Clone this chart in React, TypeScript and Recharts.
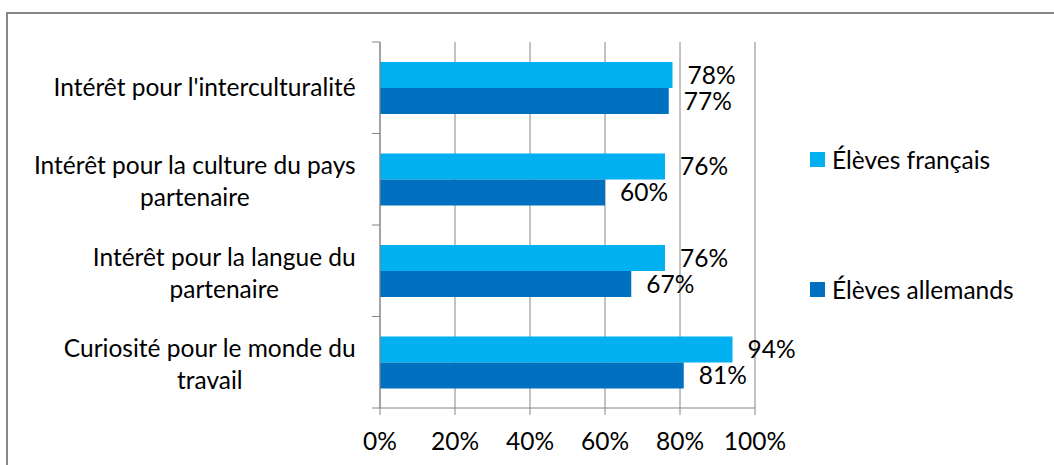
import React from "react";
import {
  BarChart,
  Bar,
  XAxis,
  YAxis,
  CartesianGrid,
  Legend,
  LabelList,
} from "recharts";

const categories = [
  "Intérêt pour l'interculturalité",
  "Intérêt pour la culture du pays\npartenaire",
  "Intérêt pour la langue du\npartenaire",
  "Curiosité pour le monde du\ntravail",
];
const francais = [78, 76, 76, 94];
const allemands = [77, 60, 67, 81];
const xTicks = [0, 20, 40, 60, 80, 100];
const seriesNames = ["Élèves français", "Élèves allemands"];
const colors = ["#00B0F0", "#0070C0"];

const data = categories.map((c, i) => ({
  cat: c,
  fr: francais[i],
  de: allemands[i],
}));

const FONT = "Lato, 'Noto Sans', sans-serif";
const SIZE = 24.5;
const GRAY = "#868686";

let ctx: CanvasRenderingContext2D | null = null;
function textWidth(s: string) {
  if (!ctx) ctx = document.createElement("canvas").getContext("2d");
  if (!ctx) return s.length * SIZE * 0.45;
  ctx.font = `${SIZE}px Lato`;
  return ctx.measureText(s).width;
}

// category label, centred block right-aligned to the axis, plus Excel-style
// tick marks on band boundaries
function CategoryTick(props: any) {
  const { x, y, payload, index } = props;
  const lines = String(payload.value).split("\n");
  const half = payload.offset ?? props.height / categories.length / 2;
  const w = Math.max(...lines.map(textWidth));
  const cx = x - 24 - w / 2;
  const lh = 32;
  const y0 = y - ((lines.length - 1) * lh) / 2 + (lines.length - 1) * 2.5;
  return (
    <g>
      <line x1={x - 8} x2={x} y1={y - half} y2={y - half} stroke={GRAY} />
      {index === categories.length - 1 && (
        <line x1={x - 8} x2={x} y1={y + half} y2={y + half} stroke={GRAY} />
      )}
      <text textAnchor="middle" fontFamily={FONT} fontSize={SIZE} fill="#000">
        {lines.map((l, i) => (
          <tspan key={i} x={cx} y={y0 + i * lh} dy="0.35em">
            {l}
          </tspan>
        ))}
      </text>
    </g>
  );
}

function LegendBox() {
  return (
    <div style={{ fontFamily: FONT, fontSize: SIZE, color: "#000" }}>
      {seriesNames.map((n, i) => (
        <div
          key={n}
          style={{
            display: "flex",
            alignItems: "center",
            height: 40,
            marginBottom: i === 0 ? 90 : 0,
          }}
        >
          <span
            style={{
              display: "inline-block",
              width: 15,
              height: 15,
              background: colors[i],
              marginRight: 7,
            }}
          />
          <span>{n}</span>
        </div>
      ))}
    </div>
  );
}

export default function App() {
  return (
    <div
      style={{
        position: "absolute",
        left: 0,
        top: 0,
        width: 1054,
        height: 465,
        overflow: "hidden",
        background: "#fff",
      }}
    >
      <div
        style={{
          position: "absolute",
          left: 6,
          top: 12,
          width: 1100,
          height: 500,
          border: `2px solid ${GRAY}`,
        }}
      />
      <div style={{ position: "absolute", left: 0, top: 0 }}>
        <BarChart
          width={1054}
          height={465}
          data={data}
          layout="vertical"
          barGap={0}
          margin={{ top: 42, right: 299, bottom: 0, left: 0 }}
        >
          <CartesianGrid horizontal={false} stroke={GRAY} />
          <XAxis
            type="number"
            domain={[0, 100]}
            ticks={xTicks}
            tickFormatter={(v) => `${v}%`}
            height={57}
            tickSize={7}
            tickMargin={18}
            axisLine={{ stroke: GRAY }}
            tickLine={{ stroke: GRAY }}
            tick={{ fill: "#000", fontSize: SIZE, fontFamily: FONT }}
          />
          <YAxis
            type="category"
            dataKey="cat"
            width={380}
            interval={0}
            tickLine={false}
            tickSize={0}
            tickMargin={0}
            axisLine={{ stroke: GRAY }}
            tick={<CategoryTick />}
          />
          <Legend
            layout="vertical"
            verticalAlign="middle"
            align="center"
            wrapperStyle={{ left: 810, top: 139, width: 240 }}
            content={() => <LegendBox />}
          />
          <Bar
            dataKey="fr"
            name={seriesNames[0]}
            fill={colors[0]}
            barSize={26}
            isAnimationActive={false}
          >
            <LabelList
              dataKey="fr"
              position="right"
              offset={15}
              formatter={(v: any) => `${v}%`}
              fill="#000"
              fontSize={SIZE}
              fontFamily={FONT}
            />
          </Bar>
          <Bar
            dataKey="de"
            name={seriesNames[1]}
            fill={colors[1]}
            barSize={26}
            isAnimationActive={false}
          >
            <LabelList
              dataKey="de"
              position="right"
              offset={15}
              formatter={(v: any) => `${v}%`}
              fill="#000"
              fontSize={SIZE}
              fontFamily={FONT}
            />
          </Bar>
        </BarChart>
      </div>
    </div>
  );
}
